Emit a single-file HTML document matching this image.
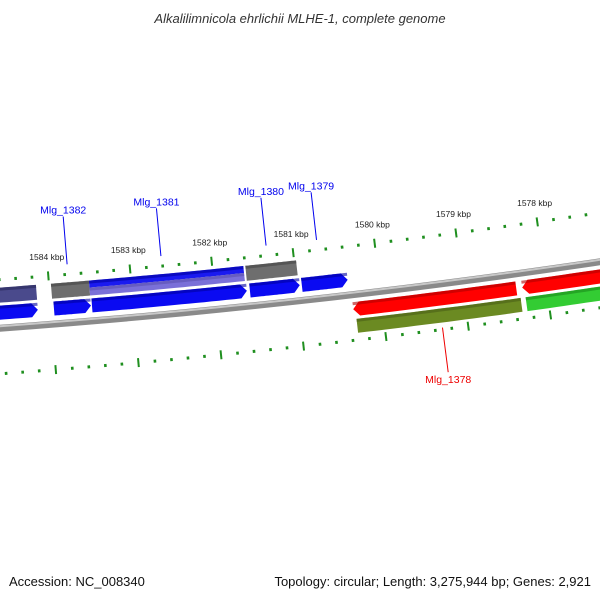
<!DOCTYPE html>
<html><head><meta charset="utf-8"><style>
body{margin:0;background:#fff}
svg{display:block}
text{font-family:"Liberation Sans",sans-serif}
</style></head><body>
<svg id="map" width="600" height="600" viewBox="0 0 600 600">
<text x="300" y="23" text-anchor="middle" font-size="13" font-style="italic" fill="#333">Alkalilimnicola ehrlichii MLHE-1, complete genome</text>
<text x="9" y="586" font-size="13" fill="#111">Accession: NC_008340</text>
<text x="591" y="586" text-anchor="end" font-size="13" fill="#111">Topology: circular; Length: 3,275,944 bp; Genes: 2,921</text>
<g id="layer"></g>
</svg>
<script>
// data
const tickStartKbp = 1577.2, tickEndKbp = 1584.8;
const kbpLabels = [1584,1583,1582,1581,1580,1579,1578];
const fwdRow1Starts = [1585600,1583976,1581598];
const fwdRow1Ends   = [1584159,1583512,1580976];
const overlapStart = 1583512, overlapEnd = 1581622;
const fwdRow2Starts = [1585600,1583963,1583500,1581573,1580939];
const fwdRow2Ends   = [1584159,1583512,1581610,1580963,1580378];
const revRow1Starts = [1580353,1578292];
const revRow1Ends   = [1578365,1576500];
const revRow2Starts = [1580328,1578267];
const revRow2Colors = ['#6b8a22','#33cc33'];
const revRow2Ends   = [1578328,1576500];
const geneNames = ['Mlg_1382','Mlg_1381','Mlg_1380','Mlg_1379','Mlg_1378'];
const geneLabelBp = [1583760,1582610,1581320,1580700,1579310];
const geneLabelSide = ['top','top','top','top','bottom'];

// geometry
const CX=-585, CY=-7699, R0=8000, PHI0=1.4608, K=1.025e-5;
function pt(bp,dr){const a=PHI0+(bp-1581000)*K, r=R0+dr; return [CX+r*Math.cos(a), CY+r*Math.sin(a)];}
const NS='http://www.w3.org/2000/svg';
const layer=document.getElementById('layer');
function mk(tag,attrs){const e=document.createElementNS(NS,tag);for(const k in attrs)e.setAttribute(k,attrs[k]);layer.appendChild(e);return e;}
function arcPts(b1,b2,dr){const out=[];const n=20;for(let i=0;i<=n;i++){out.push(pt(b1+(b2-b1)*i/n,dr));}return out;}
function shape(b1,b2,r1,r2,arrow){
  const head=75; let pts=[];
  if(arrow==='right'){
    const bb=b2+head; pts=arcPts(b1,bb,r1).concat([pt(b2,(r1+r2)/2)]).concat(arcPts(bb,b1,r2));
  } else if(arrow==='left'){
    const bb=b1-head; pts=[pt(b1,(r1+r2)/2)].concat(arcPts(bb,b2,r1)).concat(arcPts(b2,bb,r2));
  } else pts=arcPts(b1,b2,r1).concat(arcPts(b2,b1,r2));
  return pts.map(p=>p[0].toFixed(1)+','+p[1].toFixed(1)).join(' ');
}
function feat(b1,b2,r1,r2,arrow,fill,dark,name){
  let e=mk('polygon',{points:shape(b1,b2,r1,r2,arrow),fill:fill});
  
  
  let t=mk('polygon',{points:shape(b1,b2,r1,r1+3,'none'),fill:dark,opacity:0.6});
  
  
}
// backbone
let bb=mk('polyline',{points:arcPts(1585600,1576500,48.5).map(p=>p.join(',')).join(' '),fill:'none',stroke:'#8a8a8a','stroke-width':7});


let bbh=mk('polyline',{points:arcPts(1585600,1576500,46.5).map(p=>p.join(',')).join(' '),fill:'none',stroke:'#c8c8c8','stroke-width':2});


// ticks
for(const ring of [[0,'upper'],[94,'lower']]){
  for(let t=Math.ceil(tickStartKbp*5);t<=tickEndKbp*5;t++){
    const bp=t*200, major=(t%5===0);
    const a=pt(bp,ring[0]-(major?4.5:1.5)), b=pt(bp,ring[0]+(major?4.5:1.5));
    const l=mk('line',{x1:a[0],y1:a[1],x2:b[0],y2:b[1],stroke:'#1f8f1f','stroke-width':major?2:2.6});
    
    
  }
}
kbpLabels.forEach(k=>{const p=pt(k*1000,-19);const t=mk('text',{x:p[0],y:p[1]+3,'font-size':8.5,'text-anchor':'middle',fill:'#222'});t.textContent=k+' kbp';
  
  });
// forward row 1
feat(fwdRow1Starts[0],fwdRow1Ends[0],8,23,'none','#4a4a8c','#2a2a5a','gene-fwd1-a');
feat(fwdRow1Starts[1],fwdRow1Ends[1],8,23,'none','#6e6e6e','#444','gene-fwd1-b');
feat(fwdRow1Starts[2],fwdRow1Ends[2],8,23,'none','#6e6e6e','#444','gene-fwd1-c');
feat(overlapStart,overlapEnd,8,15,'none','#1a1af0','#0000a0','gene-fwd1-overlap-top');
feat(overlapStart,overlapEnd,15,23,'none','#7a70d8','#5a50b0','gene-fwd1-overlap-bottom');
// forward row 2
fwdRow2Starts.forEach((s,i)=>feat(s,fwdRow2Ends[i],26,40,'right','#0a0af2','#0000a0','gene-fwd2-'+i));
// reverse rows
revRow1Starts.forEach((s,i)=>feat(s,revRow1Ends[i],56,70,'left','#ff0000','#b00000','gene-rev1-'+i));
revRow2Starts.forEach((s,i)=>feat(s,revRow2Ends[i],73,87,'none',revRow2Colors[i],i?'#1a8a1a':'#4a5f18','gene-rev2-'+i));
// labels
geneNames.forEach((n,i)=>{
  const top=geneLabelSide[i]==='top';
  const col=top?'#0000ee':'#ee0000';
  const a=pt(geneLabelBp[i],top?-10:92), b=pt(geneLabelBp[i],top?-58:137);
  const l=mk('line',{x1:a[0],y1:a[1],x2:b[0],y2:b[1],stroke:col,'stroke-width':1});
  
  
  const t=mk('text',{x:b[0],y:top?b[1]-3:b[1]+11,'font-size':10.5,'text-anchor':'middle',fill:col});
  t.textContent=n;
  
  
});
</script>
</body></html>
